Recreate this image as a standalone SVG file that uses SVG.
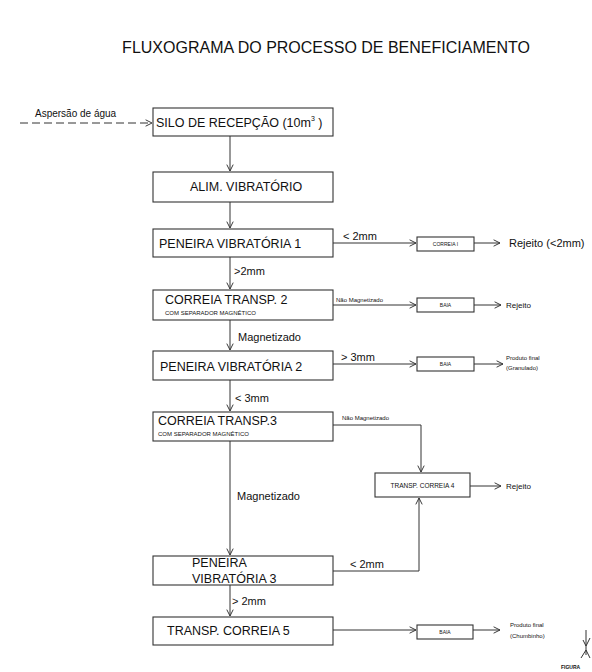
<svg xmlns="http://www.w3.org/2000/svg" width="592" height="672" viewBox="0 0 592 672">
<style>
text{font-family:"Liberation Sans",Arial,sans-serif;fill:#111}
.box{fill:#fff;stroke:#333;stroke-width:1.1}
.ln{fill:none;stroke:#333;stroke-width:1}
.m{font-size:12.5px}
.s{font-size:6px}
.l{font-size:11px}
</style>
<defs>
<marker id="ah" viewBox="0 0 10 10" refX="9" refY="5" markerWidth="8" markerHeight="8" markerUnits="userSpaceOnUse" orient="auto">
<path d="M1,1 L9,5 L1,9" fill="none" stroke="#333" stroke-width="1.2"/>
</marker>
</defs>
<rect width="592" height="672" fill="#fff"/>
<text x="326" y="53" text-anchor="middle" style="font-size:16px">FLUXOGRAMA DO PROCESSO DE BENEFICIAMENTO</text>

<g id="connectors">
<path class="ln" d="M20,123 H152" stroke-dasharray="8,4" marker-end="url(#ah)"/>
<path class="ln" d="M230,136 V171" marker-end="url(#ah)"/>
<path class="ln" d="M230,202 V228" marker-end="url(#ah)"/>
<path class="ln" d="M230,257 V289" marker-end="url(#ah)"/>
<path class="ln" d="M230,320 V350" marker-end="url(#ah)"/>
<path class="ln" d="M230,380 V411" marker-end="url(#ah)"/>
<path class="ln" d="M230,441 V555" marker-end="url(#ah)"/>
<path class="ln" d="M230,585 V616" marker-end="url(#ah)"/>
<path class="ln" d="M333,243 H416" marker-end="url(#ah)"/>
<path class="ln" d="M474,243 H500" marker-end="url(#ah)"/>
<path class="ln" d="M333,305 H416" marker-end="url(#ah)"/>
<path class="ln" d="M474,305 H501" marker-end="url(#ah)"/>
<path class="ln" d="M333,364 H416" marker-end="url(#ah)"/>
<path class="ln" d="M474,364 H503" marker-end="url(#ah)"/>
<path class="ln" d="M333,425 H421 V472" marker-end="url(#ah)"/>
<path class="ln" d="M470,486 H501" marker-end="url(#ah)"/>
<path class="ln" d="M333,571 H419 V498" marker-end="url(#ah)"/>
<path class="ln" d="M333,630 H416" marker-end="url(#ah)"/>
<path class="ln" d="M473,630 H500" marker-end="url(#ah)"/>
<text x="35" y="117" style="font-size:10px">Aspersão de água</text>
<text x="234" y="275" class="l">&gt;2mm</text>
<text x="238" y="341" class="l">Magnetizado</text>
<text x="235" y="402" class="l">&lt; 3mm</text>
<text x="237" y="500" class="l">Magnetizado</text>
<text x="232" y="605" class="l">&gt; 2mm</text>
<text x="343" y="240" class="l">&lt; 2mm</text>
<text x="509" y="247" class="l">Rejeito (&lt;2mm)</text>
<text x="336" y="302" class="s">Não Magnetizado</text>
<text x="506" y="308" style="font-size:8px">Rejeito</text>
<text x="341" y="361" class="l">&gt; 3mm</text>
<text x="506" y="360" class="s">Produto final</text>
<text x="506" y="370" class="s">(Granulado)</text>
<text x="342" y="420" class="s">Não Magnetizado</text>
<text x="506" y="489" style="font-size:8px">Rejeito</text>
<text x="350" y="568" class="l">&lt; 2mm</text>
<text x="510" y="627" class="s">Produto final</text>
<text x="510" y="638" class="s">(Chumbinho)</text>
</g>

<g id="silo">
<rect class="box" x="153" y="108" width="180" height="28"/>
<text x="156" y="127" class="m">SILO DE RECEPÇÃO (10m<tspan dy="-6" style="font-size:7px">3</tspan><tspan dy="6"> )</tspan></text>
</g>
<g id="alim">
<rect class="box" x="153" y="172" width="180" height="30"/>
<text x="190" y="191" class="m">ALIM. VIBRATÓRIO</text>
</g>
<g id="peneira1">
<rect class="box" x="153" y="229" width="180" height="28"/>
<text x="159" y="248" class="m">PENEIRA VIBRATÓRIA 1</text>
</g>
<g id="correia2">
<rect class="box" x="153" y="290" width="180" height="30"/>
<text x="165" y="304" class="m">CORREIA TRANSP. 2</text>
<text x="165" y="315" class="s">COM SEPARADOR MAGNÉTICO</text>
</g>
<g id="peneira2">
<rect class="box" x="153" y="351" width="180" height="29"/>
<text x="160" y="371" class="m">PENEIRA VIBRATÓRIA 2</text>
</g>
<g id="correia3">
<rect class="box" x="153" y="412" width="180" height="29"/>
<text x="158" y="425" class="m">CORREIA TRANSP.3</text>
<text x="158" y="436" class="s">COM SEPARADOR MAGNÉTICO</text>
</g>
<g id="peneira3">
<rect class="box" x="153" y="556" width="180" height="29"/>
<text x="192" y="567" class="m">PENEIRA</text>
<text x="192" y="583" class="m">VIBRATÓRIA 3</text>
</g>
<g id="transp5">
<rect class="box" x="153" y="617" width="180" height="28"/>
<text x="167" y="635" class="m">TRANSP. CORREIA 5</text>
</g>
<g id="correiaI">
<rect class="box" x="417" y="237" width="57" height="14"/>
<text x="445.5" y="246" class="s" text-anchor="middle" style="font-size:5px">CORREIA I</text>
</g>
<g id="baia1">
<rect class="box" x="417" y="298" width="57" height="14"/>
<text x="445.5" y="307" class="s" text-anchor="middle" style="font-size:5px">BAIA</text>
</g>
<g id="baia2">
<rect class="box" x="417" y="357" width="57" height="14"/>
<text x="445.5" y="366" class="s" text-anchor="middle" style="font-size:5px">BAIA</text>
</g>
<g id="correia4">
<rect class="box" x="375" y="473" width="95" height="24"/>
<text x="422.5" y="488" class="s" text-anchor="middle" style="font-size:6.5px">TRANSP. CORREIA 4</text>
</g>
<g id="baia3">
<rect class="box" x="417" y="625" width="56" height="14"/>
<text x="445" y="634" class="s" text-anchor="middle" style="font-size:5px">BAIA</text>
</g>
<path d="M586,630 V655 M583,640 L586,646 L590,638 M586,650 L581,658 M586,650 L590,658" fill="none" stroke="#333" stroke-width="1"/>
<text x="561" y="669" style="font-size:5px;font-weight:bold">FIGURA</text>
</svg>
